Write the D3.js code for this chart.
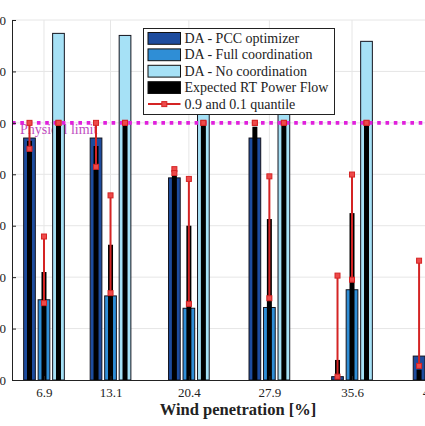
<!DOCTYPE html>
<html>
<head>
<meta charset="utf-8">
<script src="https://cdn.jsdelivr.net/npm/d3@7"></script>
<style>
  body { margin: 0; background: #fff; }
  svg { display: block; }
  svg text { font-family: "Liberation Serif", "DejaVu Serif", serif; }
</style>
</head>
<body>
<svg width="425" height="426"></svg>
<script>
// data
const wind = [6.9, 13.1, 20.4, 27.9, 35.6, 43.2]
const yTicks = [0, 20, 40, 60, 80, 100, 120, 140]
const physLimit = 100

const daPCC  = [94.1, 94.1, 78.6, 94.1, 1.3, 9.3]
const daFull = [31.2, 32.7, 27.9, 28.2, 35.1, 36]
const daNo   = [134.8, 134.0, 106, 106, 131.7, 131]

const rtPCC  = [93, 91, 79.5, 98.5, 7.8, 4]
const rtFull = [42.0, 52.6, 60.0, 62.6, 64.9, 66]
const rtNo   = [100, 100, 100, 100, 100, 100]

const q90PCC  = [100, 100, 82.0, 100, 40.6, 46.4]
const q10PCC  = [89.9, 82.9, 80.5, 100, 1.3, 5.5]
const q90Full = [55.8, 71.8, 78.2, 79.2, 79.9, 80]
const q10Full = [29.9, 33.8, 29.6, 31.8, 39.0, 40]
const q90No   = [100, 100, 100, 100, 100, 100]
const q10No   = [100, 100, 100, 100, 100, 100]

const series = [
  {key: "pcc",  name: "DA - PCC optimizer",     color: "#1d4c9e", da: daPCC,  rt: rtPCC,  q90: q90PCC,  q10: q10PCC},
  {key: "full", name: "DA - Full coordination", color: "#2f8ed6", da: daFull, rt: rtFull, q90: q90Full, q10: q10Full},
  {key: "no",   name: "DA - No coordination",   color: "#a6e1f6", da: daNo,   rt: rtNo,   q90: q90No,   q10: q10No}
]

const serif = "Liberation Serif, DejaVu Serif, serif"
const svg = d3.select("svg")

// scales
const x = d3.scaleLinear()
  .domain([3.92, 45])
  .range([12, 452.9])

const y = d3.scaleLinear()
  .domain([0, 140])
  .range([380, 20])

const sub = d3.scaleBand()
  .domain(series.map(d => d.key))
  .range([-20.35, 20.35])
  .paddingInner(0.193)

// grid
const grid = svg.append("g").attr("class", "grid")
grid.selectAll("line.h")
  .data(yTicks.slice(1))
  .enter().append("line")
  .attr("x1", 12).attr("x2", 453)
  .attr("y1", d => y(d)).attr("y2", d => y(d))
  .attr("stroke", "#e6e6e6")
grid.selectAll("line.v")
  .data(wind)
  .enter().append("line")
  .attr("x1", d => x(d)).attr("x2", d => x(d))
  .attr("y1", y(140)).attr("y2", y(0))
  .attr("stroke", "#e6e6e6")

// physical limit text (under the bars)
svg.append("text")
  .attr("x", 20)
  .attr("y", y(physLimit) + 11)
  .attr("font-size", 14)
  .attr("font-family", serif)
  .attr("fill", "#c04cc0")
  .text("Physical limit")

// DA bars
const groups = svg.append("g").attr("class", "bars")
series.forEach(s => {
  groups.selectAll("rect." + s.key)
    .data(s.da)
    .enter().append("rect")
    .attr("x", (d, i) => x(wind[i]) + sub(s.key))
    .attr("width", sub.bandwidth())
    .attr("y", d => y(d))
    .attr("height", d => y(0) - y(d))
    .attr("fill", s.color)
    .attr("stroke", "#14141e")
    .attr("stroke-width", 1)
})

// expected RT power flow (narrow black bars)
series.forEach(s => {
  groups.selectAll("rect.rt" + s.key)
    .data(s.rt)
    .enter().append("rect")
    .attr("x", (d, i) => x(wind[i]) + sub(s.key) + sub.bandwidth() / 2 - 2.5)
    .attr("width", 5)
    .attr("y", d => y(d))
    .attr("height", d => y(0) - y(d))
    .attr("fill", "#000")
})

// physical limit line
svg.append("line")
  .attr("x1", 12).attr("x2", 453)
  .attr("y1", y(physLimit)).attr("y2", y(physLimit))
  .attr("stroke", "#e020dc")
  .attr("stroke-width", 3.6)
  .attr("stroke-dasharray", "3.6,4.7")

// quantile lines
const qg = svg.append("g").attr("class", "quantiles")
series.forEach(s => {
  const cx = i => x(wind[i]) + sub(s.key) + sub.bandwidth() / 2
  qg.selectAll("line." + s.key)
    .data(s.q90)
    .enter().append("line")
    .attr("x1", (d, i) => cx(i)).attr("x2", (d, i) => cx(i))
    .attr("y1", d => y(d))
    .attr("y2", (d, i) => y(s.q10[i]))
    .attr("stroke", "#d42424")
    .attr("stroke-width", 2)
  const pts = []
  s.q90.forEach((d, i) => { pts.push([i, d]); pts.push([i, s.q10[i]]) })
  qg.selectAll("rect." + s.key)
    .data(pts)
    .enter().append("rect")
    .attr("x", d => cx(d[0]) - 2.5)
    .attr("y", d => y(d[1]) - 2.5)
    .attr("width", 5).attr("height", 5)
    .attr("fill", "#ee4a4a")
    .attr("stroke", "#d42424")
    .attr("stroke-width", 1)
})

// axes
const yAxis = d3.axisLeft(y)
  .tickValues(yTicks)
  .tickSizeInner(-4)
  .tickSizeOuter(0)
  .tickPadding(6)
svg.append("g")
  .attr("transform", "translate(12,0)")
  .call(yAxis)
  .attr("font-family", serif)
  .attr("font-size", 13)
  .call(g => g.selectAll("text").attr("fill", "#222"))
  .call(g => g.selectAll("line, path").attr("stroke", "#222"))

const xAxis = d3.axisBottom(x)
  .tickValues(wind)
  .tickFormat(d3.format(".1f"))
  .tickSizeInner(-4)
  .tickSizeOuter(0)
  .tickPadding(8)
svg.append("g")
  .attr("transform", "translate(0,380)")
  .call(xAxis)
  .attr("font-family", serif)
  .attr("font-size", 13)
  .call(g => g.selectAll("text").attr("fill", "#222"))
  .call(g => g.selectAll("line, path").attr("stroke", "#222"))

svg.append("text")
  .attr("x", 238)
  .attr("y", 415)
  .attr("text-anchor", "middle")
  .attr("font-size", 16.5)
  .attr("font-family", serif)
  .attr("font-weight", "bold")
  .attr("fill", "#222")
  .text("Wind penetration [%]")

// legend
const legend = svg.append("g").attr("transform", "translate(143.5,28.5)")
legend.append("rect")
  .attr("width", 191).attr("height", 86)
  .attr("fill", "#fff")
  .attr("stroke", "#222")
  .attr("stroke-width", 1)

const legendItems = series.map(s => ({name: s.name, color: s.color}))
  .concat([{name: "Expected RT Power Flow", color: "#000"}])
const rowY = i => 4 + i * 16.4

legend.selectAll("rect.item")
  .data(legendItems)
  .enter().append("rect")
  .attr("x", 4.5).attr("y", (d, i) => rowY(i))
  .attr("width", 32.5).attr("height", 11.8)
  .attr("fill", d => d.color)
  .attr("stroke", "#111")

legend.append("line")
  .attr("x1", 4.5).attr("x2", 37)
  .attr("y1", rowY(4) + 6).attr("y2", rowY(4) + 6)
  .attr("stroke", "#d42424").attr("stroke-width", 2)
legend.append("rect")
  .attr("x", 18.3).attr("y", rowY(4) + 3.5)
  .attr("width", 5).attr("height", 5)
  .attr("fill", "#ee4a4a").attr("stroke", "#d42424")

legend.selectAll("text")
  .data(legendItems.map(d => d.name).concat(["0.9 and 0.1 quantile"]))
  .enter().append("text")
  .attr("x", 41)
  .attr("y", (d, i) => rowY(i) + 10.5)
  .attr("font-size", 14)
  .attr("font-family", serif)
  .attr("fill", "#222")
  .text(d => d)
</script>
</body>
</html>
